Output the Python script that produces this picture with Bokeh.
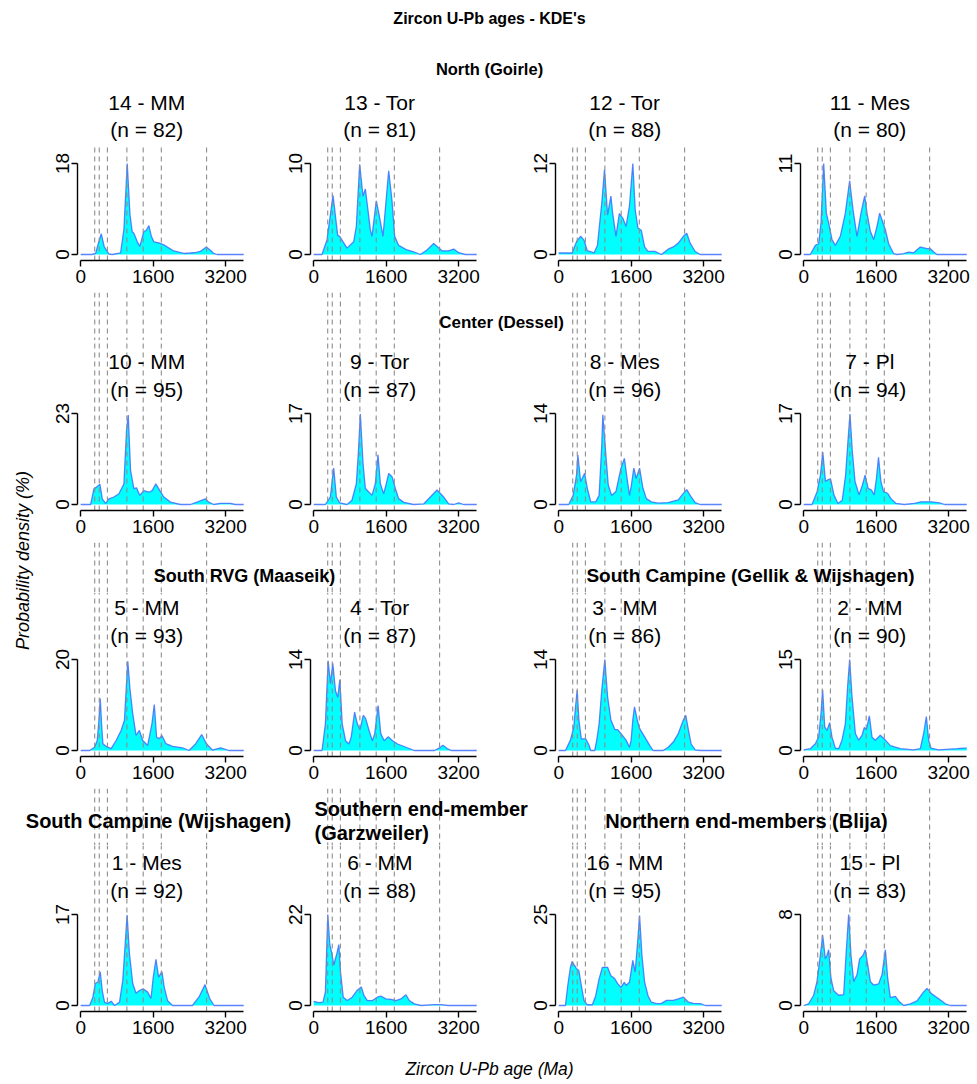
import math
from bokeh.plotting import figure
from bokeh.models import Range1d, FixedTicker
from bokeh.layouts import row, column
from bokeh.embed import file_html
from bokeh.resources import INLINE
from bokeh.core.properties import value

# ---------------- data ----------------
main_title = "Zircon U-Pb ages - KDE's"
x_title = "Zircon U-Pb age (Ma)"
y_title = "Probability density (%)"
x_ticks = [0, 1600, 3200]
ref_ages = [310, 410, 590, 1020, 1380, 1780, 2780]

# panels in grid order (row by row)
panel_ids = [14, 13, 12, 11, 10, 9, 8, 7, 5, 4, 3, 2, 1, 6, 16, 15]
panel_names = ["14 - MM", "13 - Tor", "12 - Tor", "11 - Mes",
               "10 - MM", "9 - Tor", "8 - Mes", "7 - Pl",
               "5 - MM", "4 - Tor", "3 - MM", "2 - MM",
               "1 - Mes", "6 - MM", "16 - MM", "15 - Pl"]
panel_n = [82, 81, 88, 80, 95, 87, 96, 94, 93, 87, 86, 90, 92, 88, 95, 83]
panel_ymax = [18, 10, 12, 11, 23, 17, 14, 17, 20, 14, 14, 15, 17, 22, 25, 8]

ages_14 = [0, 250, 330, 400, 455, 520, 624, 700, 881, 955, 1028, 1087, 1138, 1174, 1250, 1306, 1394, 1450, 1505, 1560, 1615, 1725, 1835, 2055, 2275, 2422, 2550, 2642, 2774, 2870, 2936, 3009, 3600]
dens_14 = [0, 0, 0.2, 2.5, 4.1, 1.5, 0.1, 0, 0.3, 5, 18, 8, 4.5, 4.2, 2.5, 1.6, 4.5, 4.8, 5.7, 3.6, 2.5, 2.3, 1.9, 0.7, 0.2, 0.3, 0.4, 0.6, 1.5, 0.8, 0.2, 0, 0]

ages_13 = [0, 184, 294, 427, 530, 574, 736, 883, 942, 1015, 1089, 1141, 1251, 1288, 1383, 1435, 1531, 1656, 1729, 1788, 1876, 2060, 2208, 2355, 2502, 2649, 2833, 2980, 3091, 3201, 3348, 3600]
dens_13 = [0, 0, 1.6, 6.5, 2.1, 2.0, 0.7, 1.4, 3.1, 9.9, 6.4, 7.2, 2.7, 2.0, 5.9, 4.6, 2.0, 9.2, 5.9, 2.0, 1.0, 0.5, 0.3, 0, 0.5, 1.2, 0.4, 0.4, 0.6, 0.2, 0, 0]

ages_12 = [0, 298, 394, 484, 558, 632, 781, 856, 952, 1012, 1079, 1153, 1190, 1265, 1339, 1414, 1488, 1563, 1637, 1689, 1749, 1823, 1897, 1972, 2121, 2269, 2418, 2530, 2641, 2753, 2827, 2902, 3013, 3125, 3600]
dens_12 = [0.2, 0.2, 1.7, 2.4, 1.9, 0.5, 0.2, 1.2, 6.8, 11.2, 5.2, 7.7, 5.5, 2.4, 5.4, 4.8, 3.7, 6.4, 12, 5.9, 3.5, 3.2, 1.0, 0.4, 0.4, 0, 0.7, 1.0, 1.5, 2.4, 2.8, 1.5, 0.4, 0, 0]

ages_11 = [0, 147, 258, 331, 383, 442, 500, 567, 625, 699, 809, 920, 1015, 1089, 1177, 1266, 1347, 1398, 1472, 1545, 1619, 1678, 1751, 1803, 1876, 1987, 2060, 2208, 2318, 2428, 2575, 2723, 2796, 2870, 2943, 3600]
dens_11 = [0, 0, 1.1, 1.3, 3.8, 11, 5.0, 3.4, 1.8, 1.1, 2.2, 5.0, 8.9, 5.4, 2.2, 5.0, 7.1, 5.0, 2.8, 1.8, 3.4, 5.0, 3.8, 3.0, 1.3, 0.1, 0, 0.1, 0.3, 0.2, 0.9, 0.7, 0.7, 0.3, 0, 0]

ages_10 = [0, 220, 294, 352, 426, 477, 550, 624, 734, 844, 954, 1013, 1050, 1101, 1174, 1233, 1306, 1394, 1505, 1578, 1659, 1747, 1835, 1982, 2202, 2422, 2569, 2752, 2826, 2936, 3083, 3303, 3413, 3600]
dens_10 = [0, 0, 4.0, 4.4, 5.1, 1.4, 0.3, 1.4, 1.9, 2.7, 5.2, 18.8, 22.6, 8.6, 4.0, 4.2, 2.3, 3.5, 3.1, 3.5, 5.2, 3.5, 1.9, 0.6, 0, 0, 0.6, 1.4, 0.6, 0, 0.3, 0.3, 0, 0]

ages_9 = [0, 258, 368, 442, 500, 574, 736, 846, 942, 986, 1030, 1089, 1141, 1288, 1361, 1420, 1472, 1545, 1604, 1656, 1729, 1803, 1876, 1987, 2208, 2428, 2575, 2723, 2870, 2980, 3091, 3201, 3311, 3600]
dens_9 = [0, 0, 1.4, 6.8, 1.4, 0.3, 0, 0.8, 3.9, 9.6, 16.9, 7.7, 3.0, 1.7, 3.9, 9.3, 3.9, 2.0, 3.9, 5.8, 5.2, 3.0, 1.1, 0.4, 0, 0.1, 1.4, 2.7, 1.4, 0.1, 0, 0.3, 0, 0]

ages_8 = [0, 223, 320, 394, 424, 484, 573, 632, 707, 818, 893, 952, 975, 1042, 1094, 1168, 1265, 1376, 1451, 1510, 1563, 1600, 1659, 1711, 1786, 1860, 1935, 2046, 2195, 2418, 2641, 2753, 2827, 2902, 3013, 3125, 3600]
dens_8 = [0, 0, 1.4, 4.5, 7.6, 3.5, 4.8, 2.5, 0.4, 0.4, 1.4, 9.2, 13.8, 7.6, 3.0, 1.4, 2.0, 5.6, 7.1, 4.0, 1.4, 2.7, 5.6, 4.0, 5.6, 2.5, 0.9, 0.4, 0.2, 0.3, 0.7, 1.7, 2.3, 1.4, 0.3, 0, 0]

ages_7 = [0, 185, 296, 370, 422, 481, 533, 593, 667, 756, 852, 926, 978, 1022, 1074, 1133, 1222, 1296, 1356, 1422, 1496, 1556, 1607, 1652, 1704, 1763, 1852, 1926, 2037, 2222, 2444, 2593, 2815, 3000, 3111, 3600]
dens_7 = [0, 0, 2.4, 5.5, 9.8, 4.3, 4.6, 4.8, 1.8, 0.2, 0.8, 5.5, 11.8, 16.9, 9.9, 4.3, 1.8, 3.6, 5.5, 3.0, 2.7, 1.8, 4.9, 8.8, 4.3, 2.4, 2.1, 1.1, 0.2, 0, 0.2, 0.5, 0.5, 0.3, 0, 0]

ages_5 = [0, 198, 307, 366, 403, 432, 461, 490, 564, 673, 783, 893, 966, 1003, 1040, 1091, 1149, 1223, 1296, 1369, 1479, 1574, 1625, 1676, 1735, 1794, 1881, 2028, 2247, 2394, 2540, 2672, 2775, 2906, 3089, 3272, 3600]
dens_5 = [0, 0, 0.7, 2.2, 6.6, 11.4, 5.9, 1.5, 0.9, 0.4, 2.2, 4.4, 6.6, 13.2, 19.6, 13.2, 8.1, 3.3, 4.4, 2.2, 1.1, 5.9, 10.1, 2.9, 2.6, 3.3, 1.5, 0.9, 0.6, 0, 1.5, 3.5, 1.5, 0.1, 0.6, 0, 0]

ages_4 = [0, 185, 259, 319, 370, 422, 481, 533, 578, 630, 704, 778, 830, 904, 963, 1022, 1096, 1148, 1222, 1296, 1348, 1422, 1481, 1556, 1644, 1741, 1852, 2037, 2222, 2667, 2778, 2852, 2948, 3037, 3600]
dens_4 = [0, 0, 4.1, 13.8, 10.3, 13.4, 9.2, 8.2, 10.9, 4.1, 1.5, 1.0, 2.1, 5.9, 4.1, 3.2, 5.4, 4.9, 3.1, 1.5, 2.6, 6.9, 2.6, 1.5, 2.1, 1.5, 1.0, 0.5, 0, 0, 0.4, 0.8, 0.3, 0, 0]

ages_3 = [0, 149, 260, 335, 372, 409, 446, 499, 595, 670, 707, 796, 841, 893, 952, 1019, 1079, 1153, 1243, 1302, 1376, 1488, 1563, 1600, 1637, 1674, 1734, 1786, 1897, 2009, 2083, 2307, 2418, 2530, 2641, 2753, 2805, 2865, 2924, 3013, 3125, 3600]
dens_3 = [0, 0, 1.6, 3.6, 6.7, 9.3, 4.7, 1.8, 1.8, 0.8, 0, 0, 1.6, 4.1, 9.3, 14, 8.3, 4.7, 3.2, 3.2, 2.6, 1.6, 0.5, 1.6, 4.7, 6.7, 4.7, 3.4, 2.1, 0.8, 0, 0, 0.5, 1.3, 2.6, 4.7, 5.4, 3.1, 1.0, 0.1, 0, 0]

ages_2 = [0, 147, 258, 331, 383, 419, 464, 515, 574, 625, 699, 773, 846, 920, 971, 1015, 1067, 1141, 1214, 1288, 1339, 1383, 1450, 1508, 1582, 1692, 1803, 1913, 2134, 2428, 2575, 2649, 2708, 2759, 2811, 2980, 3385, 3532, 3600]
dens_2 = [0.1, 0.3, 1.1, 2.2, 6.1, 10, 3.9, 3.3, 4.6, 2.2, 0.4, 0.3, 1.7, 4.4, 10.6, 15, 8.9, 2.8, 1.7, 2.5, 3.8, 3.4, 5.7, 2.2, 1.7, 2.5, 1.7, 0.8, 0.3, 0.1, 0.3, 2.8, 5.6, 1.7, 0.4, 0.1, 0.3, 0.4, 0.4]

ages_1 = [0, 198, 271, 322, 381, 432, 476, 527, 600, 673, 747, 857, 930, 988, 1025, 1076, 1149, 1223, 1296, 1384, 1479, 1552, 1603, 1662, 1720, 1794, 1845, 1918, 2028, 2467, 2613, 2745, 2848, 2943, 3600]
dens_1 = [0, 0, 1.6, 4.1, 4.4, 6.3, 2.8, 0.6, 0.4, 0.8, 0, 0.6, 4.7, 12.2, 16.9, 9.7, 4.1, 2.3, 2.8, 3.1, 2.5, 1.3, 5.3, 8.6, 5.3, 6.3, 3.4, 0.9, 0, 0, 1.6, 3.9, 1.3, 0, 0]

ages_6 = [0, 111, 207, 259, 311, 356, 393, 444, 504, 556, 593, 652, 741, 852, 963, 1052, 1111, 1185, 1296, 1407, 1481, 1593, 1704, 1815, 1926, 2037, 2111, 2222, 2370, 2667, 2815, 2963, 3600]
dens_6 = [1.0, 0.7, 0.8, 3.3, 22, 14.7, 13.0, 9.8, 12.2, 14.7, 8.1, 2.0, 1.2, 2.0, 3.7, 4.5, 2.4, 1.2, 1.2, 2.0, 2.3, 1.6, 1.5, 1.2, 1.6, 2.6, 1.2, 0.4, 0, 0.2, 0.2, 0, 0]

ages_16 = [0, 149, 201, 260, 298, 350, 394, 446, 499, 558, 632, 744, 818, 893, 967, 1079, 1153, 1228, 1302, 1376, 1451, 1488, 1563, 1637, 1689, 1749, 1786, 1838, 1897, 1972, 2046, 2158, 2269, 2381, 2530, 2641, 2753, 2865, 2976, 3125, 3237, 3600]
dens_16 = [0, 0, 5.5, 10.5, 12.1, 11.0, 10.1, 9.6, 5.5, 1.4, 0.2, 0.2, 2.7, 7.3, 10.5, 10.5, 8.2, 7.5, 6.0, 5.0, 6.4, 5.5, 6.4, 12.4, 9.2, 18.3, 24.7, 13.7, 6.4, 2.7, 0.9, 0.5, 0.6, 1.4, 1.4, 1.8, 2.3, 0.9, 0.6, 0.5, 0, 0]

ages_15 = [0, 110, 221, 294, 368, 419, 478, 515, 552, 603, 662, 773, 883, 935, 993, 1045, 1104, 1177, 1236, 1310, 1361, 1413, 1472, 1545, 1656, 1729, 1803, 1854, 1913, 2024, 2097, 2208, 2355, 2502, 2649, 2723, 2833, 2980, 3127, 3238, 3600]
dens_15 = [0, 0.15, 0.9, 2.1, 4.4, 6.2, 4.1, 4.4, 4.9, 2.4, 1.3, 0.9, 0.95, 4.4, 8, 4.4, 2.1, 2.7, 4.1, 4.4, 4.9, 3.6, 2.1, 1.8, 1.9, 2.7, 4.9, 2.4, 0.7, 0.8, 0.4, 0, 0.15, 0.4, 1.2, 1.5, 1.0, 0.6, 0.15, 0, 0]

panel_ages = {14: ages_14, 13: ages_13, 12: ages_12, 11: ages_11, 10: ages_10, 9: ages_9,
              8: ages_8, 7: ages_7, 5: ages_5, 4: ages_4, 3: ages_3, 2: ages_2,
              1: ages_1, 6: ages_6, 16: ages_16, 15: ages_15}
panel_dens = {14: dens_14, 13: dens_13, 12: dens_12, 11: dens_11, 10: dens_10, 9: dens_9,
              8: dens_8, 7: dens_7, 5: dens_5, 4: dens_4, 3: dens_3, 2: dens_2,
              1: dens_1, 6: dens_6, 16: dens_16, 15: dens_15}

group_headers = ["North (Goirle)", "Center (Dessel)", "South RVG (Maaseik)",
                 "South Campine (Gellik & Wijshagen)", "South Campine (Wijshagen)",
                 "Southern end-member", "(Garzweiler)", "Northern end-members (Blija)"]

# ---------------- layout / style ----------------
FONT = "Liberation Sans"
FILL = "#00FFFF"
KDE_LINE = "#3f6fff"
DASH_COLOR = "#8c8c8c"
DASH = "5 4"
PAGE_W = 977
LEFT_STRIP = 40
SCALE = 0.0453           # px per Ma
XMIN = -70
FW = 168                 # frame width
XMAX = XMIN + FW / SCALE
PX_UNIT = 91             # px from 0 to ymax tick
AXIS_GAP = 6
BOTTOM_BORDER = 32
ROW_TOP = [85, 340, 592, 845]
ROW_BASE = [254, 504, 750, 1005]
TITLE_OFF = [152, 143, 143, 143]   # px above baseline: panel name
N_OFF = [125, 115, 115, 115]       # px above baseline: (n = ..)
COL_W = [237, 245, 245, 210]
COL_LEFT = [37, 33, 33, 33]
col_start = [LEFT_STRIP]
for w in COL_W[:-1]:
    col_start.append(col_start[-1] + w)
ZERO_PX = [col_start[c] + COL_LEFT[c] - XMIN * SCALE for c in range(4)]
TITLE_X = 1460


def panel(r, c, k, extra_left=0):
    pid = panel_ids[k]
    ymax = panel_ymax[k]
    B = ROW_BASE[r]
    top = ROW_TOP[r]
    upp = ymax / PX_UNIT
    y0 = -AXIS_GAP * upp
    y1 = (B - top) * upp
    fh = B + AXIS_GAP - top
    p = figure(width=COL_W[c] + extra_left, height=fh + BOTTOM_BORDER,
               x_range=Range1d(XMIN, XMAX), y_range=Range1d(y0, y1),
               output_backend="svg", toolbar_location=None,
               min_border_left=COL_LEFT[c] + extra_left,
               min_border_right=COL_W[c] - COL_LEFT[c] - FW,
               min_border_top=0, min_border_bottom=BOTTOM_BORDER)
    p.outline_line_color = None
    p.grid.visible = False

    ages = panel_ages[pid]
    dens = panel_dens[pid]
    p.varea(x=ages, y1=[0] * len(ages), y2=dens, fill_color=FILL)
    p.line(ages, dens, line_color=KDE_LINE, line_width=1.3, line_alpha=0.85)

    ytop = y1 if r > 0 else (B - 147) * upp
    p.segment(x0=ref_ages, y0=[y0] * len(ref_ages), x1=ref_ages, y1=[ytop] * len(ref_ages),
              line_color=DASH_COLOR, line_dash=DASH, line_width=1.1)

    p.text(x=[TITLE_X, TITLE_X], y=[TITLE_OFF[r] * upp, N_OFF[r] * upp],
           text=[panel_names[k], "(n = %d)" % panel_n[k]],
           text_align="center", text_baseline="middle",
           text_font=value(FONT), text_font_size="21px", text_color="black")

    p.xaxis.ticker = FixedTicker(ticks=x_ticks)
    p.xaxis.bounds = (0, 3600)
    p.yaxis.ticker = FixedTicker(ticks=[0, ymax])
    p.yaxis.bounds = (0, ymax)
    p.yaxis.major_label_orientation = "vertical"
    for ax in (p.xaxis[0], p.yaxis[0]):
        ax.minor_tick_line_color = None
        ax.major_tick_in = 0
        ax.major_tick_out = 6
        ax.major_label_standoff = 3
        ax.axis_line_width = 1.4
        ax.major_tick_line_width = 1.4
        ax.axis_line_color = "black"
        ax.major_tick_line_color = "black"
        ax.major_label_text_font = FONT
        ax.major_label_text_font_size = "19px"
        ax.major_label_text_color = "black"
    return p


def strip(width, height, x_start, dashed=True):
    p = figure(width=width, height=height,
               x_range=Range1d(x_start, x_start + width), y_range=Range1d(height, 0),
               output_backend="svg", toolbar_location=None,
               x_axis_location=None, y_axis_location=None, min_border=0)
    p.outline_line_color = None
    p.grid.visible = False
    if dashed:
        xs = [ZERO_PX[c] + a * SCALE for c in range(4) for a in ref_ages]
        p.segment(x0=xs, y0=[0] * len(xs), x1=xs, y1=[height] * len(xs),
                  line_color=DASH_COLOR, line_dash=DASH, line_width=1.1)
    return p


def bold_text(p, x, y, t, size, align="center"):
    p.text(x=[x], y=[y], text=[t], text_align=align, text_baseline="middle",
           text_font=value(FONT), text_font_style="bold", text_font_size=size,
           text_color="black")


# top strip
top = strip(PAGE_W, ROW_TOP[0], 0, dashed=False)
bold_text(top, 489, 18, main_title, "16px")
bold_text(top, 489, 68, group_headers[0], "16.5px")

# header strips between panel rows
s2 = strip(sum(COL_W), 48, LEFT_STRIP)
bold_text(s2, 501, 30, group_headers[1], "17px")
s3 = strip(sum(COL_W), 50, LEFT_STRIP)
bold_text(s3, 244, 33, group_headers[2], "18px")
bold_text(s3, 750, 33, group_headers[3], "19px")
s4 = strip(PAGE_W, 57, 0)
bold_text(s4, 158, 32, group_headers[4], "20px")
bold_text(s4, 314, 20, group_headers[5], "20px", align="left")
bold_text(s4, 314, 44, group_headers[6], "20px", align="left")
bold_text(s4, 746, 32, group_headers[7], "20px")

rows = []
for r in range(4):
    if r < 3:
        rows.append(row(*[panel(r, c, r * 4 + c) for c in range(4)]))
    else:
        rows.append(row(*[panel(r, c, r * 4 + c, extra_left=LEFT_STRIP if c == 0 else 0)
                          for c in range(4)]))

upper = column(rows[0], s2, rows[1], s3, rows[2])
upper_h = ROW_TOP[3] - 57 - ROW_TOP[0]

ylab = figure(width=LEFT_STRIP, height=upper_h, x_range=Range1d(0, LEFT_STRIP),
              y_range=Range1d(upper_h, 0), output_backend="svg", toolbar_location=None,
              x_axis_location=None, y_axis_location=None, min_border=0)
ylab.outline_line_color = None
ylab.grid.visible = False
ylab.text(x=[22], y=[560 - ROW_TOP[0]], text=[y_title], angle=math.pi / 2,
          text_align="center", text_baseline="middle", text_font=value(FONT),
          text_font_style="italic", text_font_size="18px", text_color="black")

bottom_h = 1084 - (ROW_BASE[3] + AXIS_GAP + BOTTOM_BORDER)
bottom = strip(PAGE_W, bottom_h, 0, dashed=False)
bottom.text(x=[489], y=[25], text=[x_title], text_align="center", text_baseline="middle",
            text_font=value(FONT), text_font_style="italic", text_font_size="17.5px",
            text_color="black")

layout = column(top, row(ylab, upper), s4, rows[3], bottom)

open("out.html", "w").write(file_html(layout, INLINE))
